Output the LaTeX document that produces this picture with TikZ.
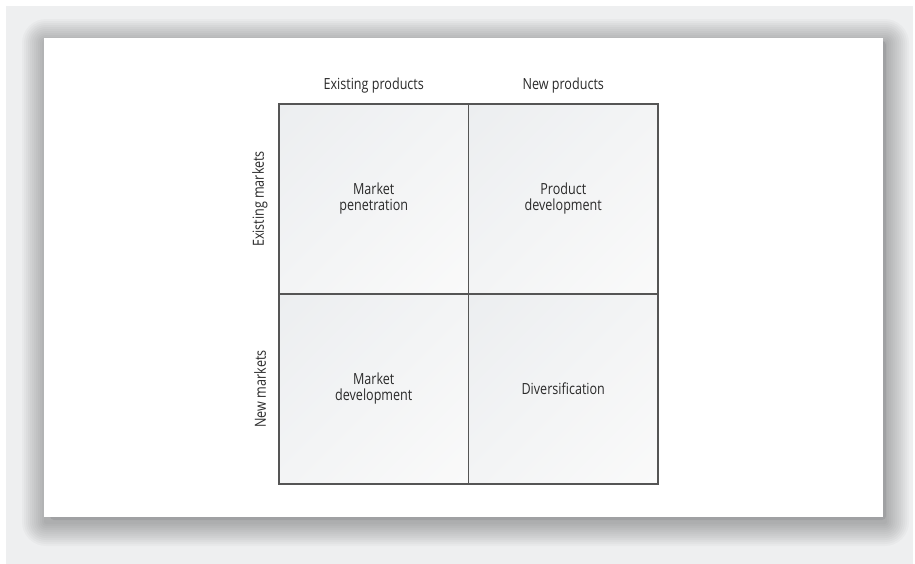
\documentclass[tikz,border=0pt]{standalone}
\usepackage{fontspec}
\usetikzlibrary{shadings}
\setmainfont{Open Sans}[FakeStretch=0.82]
\definecolor{panel}{HTML}{EEEFF0}
\definecolor{shadowdark}{HTML}{9C9DA0}
\definecolor{linecol}{HTML}{555555}
\definecolor{txt}{HTML}{2A2A2A}
\definecolor{cellA}{HTML}{ECEEF0}
\definecolor{cellB}{HTML}{FAFAFA}
\definecolor{cellC}{HTML}{F3F4F5}
\begin{document}
\begin{tikzpicture}[x=0.75pt,y=-0.75pt,
  cell/.style={draw=linecol, line width=1.2pt, minimum width=142.1pt, minimum height=142.5pt,
    inner sep=0pt, upper left=cellA, lower right=cellB, upper right=cellC, lower left=cellC,
    text=txt, align=center, font=\fontsize{11.5pt}{12pt}\selectfont},
  axislabel/.style={text=txt, font=\fontsize{11.5pt}{12pt}\selectfont, inner sep=0pt}]
\useasboundingbox (0,0) rectangle (915,564);
\fill[white] (0,0) rectangle (915,564);
\fill[panel] (6,6) rectangle (913,564);
% soft shadow
\foreach \e in {24,22,...,2} {
  \fill[black, fill opacity=0.022, rounded corners=\e*0.75pt] (46-\e,43-\e) rectangle (885+\e,522+\e);
}
\fill[shadowdark, fill opacity=0.75, rounded corners=3pt] (50,41) rectangle (886,520);
% card
\fill[white] (44,38) rectangle (883,517);
% cells
\node[cell] (pen) at (373.75,199) {Market\\penetration};
\node[cell] (prod) at (563.25,199) {Product\\development};
\node[cell] (mdev) at (373.75,389) {Market\\development};
\node[cell] (div) at (563.25,389) {Diversification};
% labels
\node[axislabel] (ep) at (373.75,85.5) {Existing products};
\node[axislabel] (np) at (563.25,85.5) {New products};
\node[axislabel, rotate=90] (em) at (260,199) {Existing markets};
\node[axislabel, rotate=90] (nm) at (260,389) {New markets};
\end{tikzpicture}
\end{document}
